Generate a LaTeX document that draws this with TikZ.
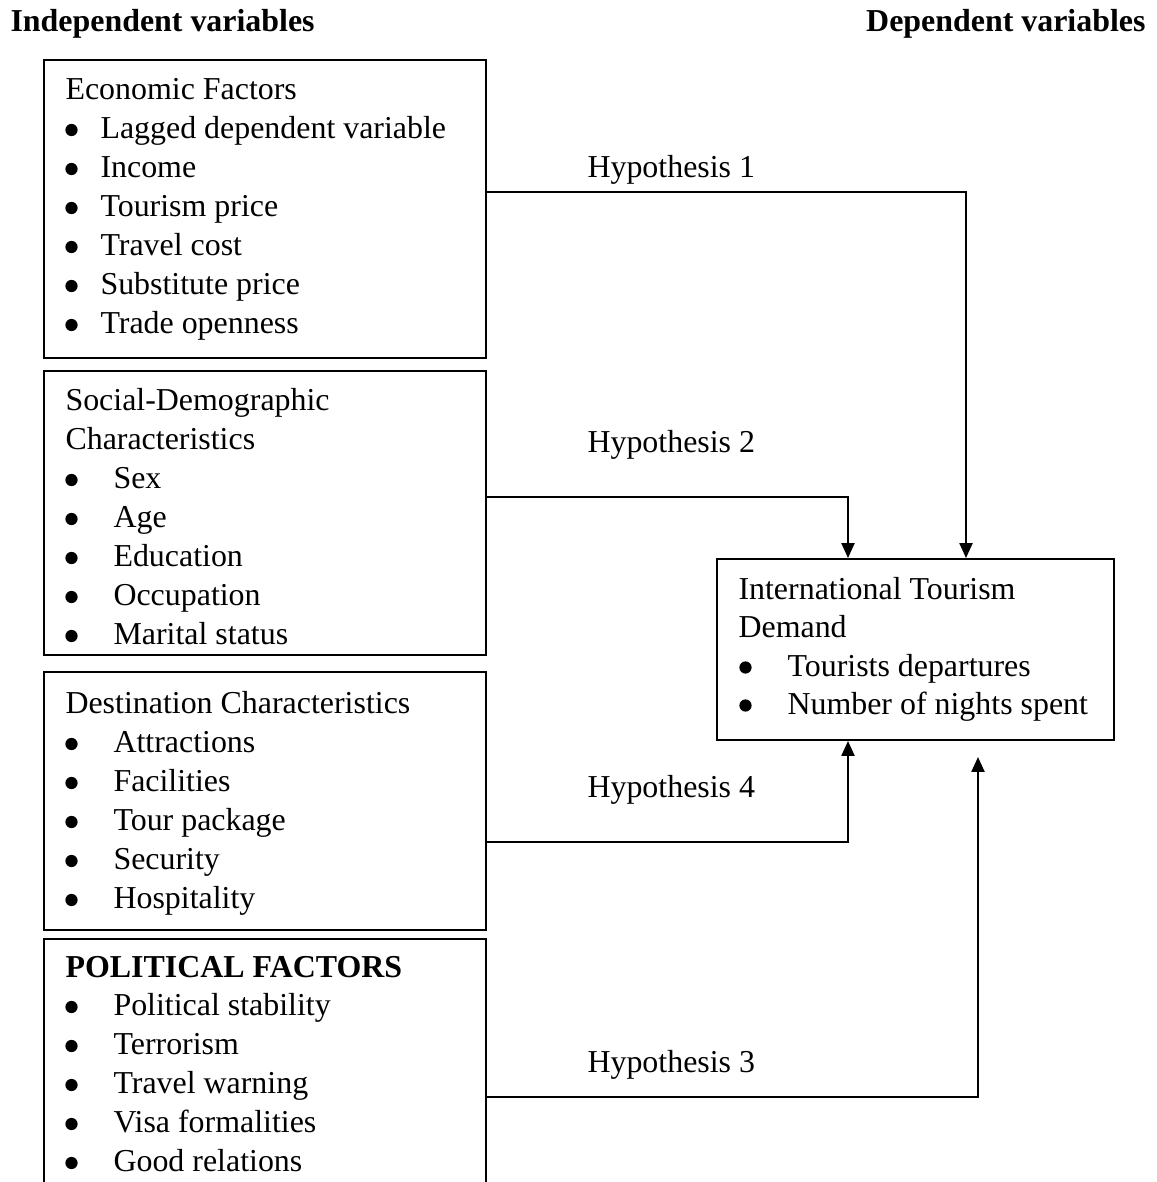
\documentclass[tikz,border=0pt]{standalone}
\usepackage{fontspec}
\setmainfont{Liberation Serif}
\usetikzlibrary{arrows.meta,fit}
\begin{document}
\begin{tikzpicture}[x=0.376pt,y=-0.376pt,
  txt/.style={anchor=base west,inner sep=0pt,font=\fontsize{12}{14}\selectfont},
  hdr/.style={anchor=base west,inner sep=0pt,font=\fontsize{12}{14}\selectfont\bfseries},
  box/.style={draw,line width=0.75pt,inner sep=0pt},
  dot/.style={circle,fill,inner sep=0pt,minimum size=4.6pt},
  conn/.style={line width=0.75pt,-{Triangle[width=4.9pt,length=5.6pt]}}]
\clip (0,0) rectangle (1157,1182);
\fill[white] (0,0) rectangle (1157,1182);
% headers
\node[hdr] (indep) at (10,32) {Independent variables};
\node[hdr,anchor=base east] (depv) at (1146,32) {Dependent variables};
% boxes
\node[box,fit={(44,60)(486,358)}] (b1) {};
\node[box,fit={(44,371)(486,655)}] (b2) {};
\node[box,fit={(44,672)(486,930)}] (b3) {};
\node[box,fit={(44,939)(486,1230)}] (b4) {};
\node[box,fit={(717,559)(1114,740)}] (dep) {};
% box 1
\node[txt] (b1t0) at (65,99) {Economic Factors};
\foreach \t [count=\i] in {Lagged dependent variable,Income,Tourism price,Travel cost,Substitute price,Trade openness}{
  \node[dot] (b1d\i) at (71.5,{91+39*\i}) {};
  \node[txt] (b1t\i) at (100,{99+39*\i}) {\t};
}
% box 2
\node[txt] (b2ta) at (65,410) {Social-Demographic};
\node[txt] (b2tb) at (65,449) {Characteristics};
\foreach \t [count=\i] in {Sex,Age,Education,Occupation,Marital status}{
  \node[dot] (b2d\i) at (71.5,{441+39*\i}) {};
  \node[txt] (b2t\i) at (113,{449+39*\i}) {\t};
}
% box 3
\node[txt] (b3t0) at (65,713) {Destination Characteristics};
\foreach \t [count=\i] in {Attractions,Facilities,Tour package,Security,Hospitality}{
  \node[dot] (b3d\i) at (71.5,{705+39*\i}) {};
  \node[txt] (b3t\i) at (113,{713+39*\i}) {\t};
}
% box 4
\node[hdr] (b4t0) at (65,977) {POLITICAL FACTORS};
\foreach \t [count=\i] in {Political stability,Terrorism,Travel warning,Visa formalities,Good relations}{
  \node[dot] (b4d\i) at (71.5,{968+39*\i}) {};
  \node[txt] (b4t\i) at (113,{976+39*\i}) {\t};
}
% dependent box
\node[txt] (dt1) at (738,599) {International Tourism};
\node[txt] (dt2) at (738,637) {Demand};
\node[dot] (dd1) at (745.5,667.5) {};
\node[txt] (dt3) at (787,676) {Tourists departures};
\node[dot] (dd2) at (745.5,705.5) {};
\node[txt] (dt4) at (787,714) {Number of nights spent};
% hypothesis labels
\node[txt] (h1l) at (587,177) {Hypothesis 1};
\node[txt] (h2l) at (587,452) {Hypothesis 2};
\node[txt] (h4l) at (587,797) {Hypothesis 4};
\node[txt] (h3l) at (587,1072) {Hypothesis 3};
% connectors
\coordinate (h1) at (966,192);
\coordinate (h2) at (848,497);
\coordinate (h4) at (848,842);
\coordinate (h3) at (978,1097);
\coordinate (h3end) at (978,757);
\draw[conn] (h1 -| b1.east) -| (dep.north -| h1);
\draw[conn] (h2 -| b2.east) -| (dep.north -| h2);
\draw[conn] (h4 -| b3.east) -| (dep.south -| h4);
\draw[conn] (h3 -| b4.east) -| (h3end);
\end{tikzpicture}
\end{document}
